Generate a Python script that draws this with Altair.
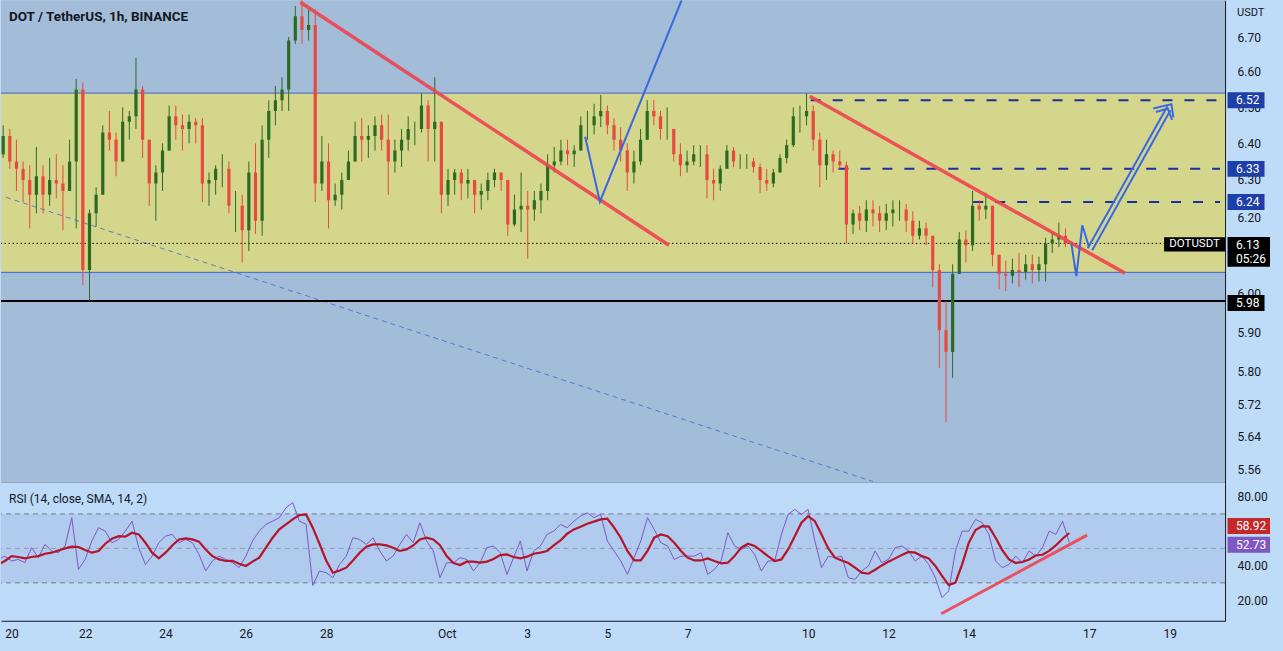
import altair as alt
import pandas as pd

TITLE = "DOT / TetherUS, 1h, BINANCE"
RSI_TITLE = "RSI (14, close, SMA, 14, 2)"
FONT = "Roboto"
INK = "#131722"

# time axis: hours from 2022-10-01 00:00, one candle every 4 hours
T_FIRST = -268
T_STEP = 4
X_DOMAIN = [-266.3, 465.1]
PRICE_DOMAIN = [5.529, 6.807]
RSI_DOMAIN = [8, 88]

OPEN_FIRST = 6.37
HIGH = [6.45, 6.44, 6.41, 6.35, 6.34, 6.39, 6.34, 6.36, 6.37, 6.34,
        6.41, 6.58, 6.57, 6.22, 6.28, 6.45, 6.49, 6.43, 6.50, 6.49,
        6.64, 6.56, 6.41, 6.34, 6.40, 6.505, 6.505, 6.48, 6.48, 6.47,
        6.47, 6.32, 6.34, 6.37, 6.35, 6.27, 6.26, 6.35, 6.40, 6.45,
        6.52, 6.56, 6.585, 6.70, 6.79, 6.81, 6.78, 6.78, 6.42, 6.40,
        6.29, 6.32, 6.38, 6.46, 6.47, 6.45, 6.475, 6.48, 6.48, 6.41,
        6.44, 6.475, 6.46, 6.54, 6.52, 6.585, 6.46, 6.33, 6.33, 6.33,
        6.33, 6.30, 6.29, 6.32, 6.33, 6.32, 6.30, 6.26, 6.32, 6.27,
        6.27, 6.29, 6.37, 6.39, 6.41, 6.41, 6.395, 6.475, 6.49, 6.51,
        6.535, 6.505, 6.47, 6.445, 6.40, 6.38, 6.44, 6.52, 6.52, 6.49,
        6.50, 6.44, 6.40, 6.38, 6.395, 6.395, 6.395, 6.33, 6.34, 6.395,
        6.39, 6.37, 6.37, 6.36, 6.345, 6.33, 6.33, 6.37, 6.41, 6.50,
        6.505, 6.54, 6.505, 6.43, 6.41, 6.38, 6.38, 6.35, 6.22, 6.23,
        6.245, 6.245, 6.23, 6.235, 6.245, 6.245, 6.235, 6.215, 6.19, 6.185,
        6.15, 6.075, 5.98, 6.075, 6.16, 6.165, 6.27, 6.245, 6.265, 6.23,
        6.10, 6.085, 6.09, 6.105, 6.10, 6.10, 6.095, 6.145, 6.16, 6.185,
        6.17]
LOW = [6.36, 6.33, 6.27, 6.24, 6.17, 6.21, 6.21, 6.23, 6.25, 6.165,
       6.27, 6.17, 6.02, 5.98, 6.175, 6.26, 6.38, 6.31, 6.35, 6.41,
       6.44, 6.36, 6.23, 6.19, 6.27, 6.38, 6.41, 6.38, 6.40, 6.40,
       6.24, 6.23, 6.26, 6.28, 6.21, 6.16, 6.08, 6.11, 6.155, 6.15,
       6.36, 6.45, 6.49, 6.49, 6.68, 6.68, 6.69, 6.24, 6.27, 6.17,
       6.23, 6.22, 6.30, 6.35, 6.35, 6.36, 6.38, 6.38, 6.26, 6.32,
       6.335, 6.38, 6.395, 6.43, 6.35, 6.35, 6.21, 6.23, 6.26, 6.245,
       6.25, 6.21, 6.22, 6.245, 6.28, 6.27, 6.15, 6.175, 6.16, 6.09,
       6.19, 6.21, 6.245, 6.32, 6.34, 6.34, 6.335, 6.38, 6.41, 6.425,
       6.445, 6.425, 6.38, 6.35, 6.27, 6.29, 6.34, 6.41, 6.45, 6.41,
       6.41, 6.35, 6.31, 6.32, 6.34, 6.335, 6.25, 6.245, 6.27, 6.33,
       6.335, 6.33, 6.33, 6.32, 6.265, 6.27, 6.28, 6.32, 6.345, 6.39,
       6.43, 6.45, 6.38, 6.28, 6.30, 6.32, 6.33, 6.13, 6.155, 6.165,
       6.16, 6.175, 6.16, 6.165, 6.175, 6.19, 6.16, 6.13, 6.14, 6.125,
       6.015, 5.81, 5.675, 5.785, 6.05, 6.08, 6.11, 6.19, 6.195, 6.07,
       6.01, 6.005, 6.025, 6.015, 6.035, 6.025, 6.03, 6.03, 6.105, 6.12,
       6.12]
CLOSE = [6.42, 6.35, 6.33, 6.30, 6.26, 6.31, 6.26, 6.30, 6.29, 6.27,
         6.35, 6.55, 6.06, 6.21, 6.26, 6.43, 6.41, 6.35, 6.46, 6.475,
         6.55, 6.41, 6.29, 6.32, 6.38, 6.475, 6.45, 6.44, 6.46, 6.45,
         6.29, 6.30, 6.33, 6.33, 6.23, 6.23, 6.165, 6.32, 6.19, 6.41,
         6.49, 6.52, 6.55, 6.69, 6.76, 6.72, 6.735, 6.29, 6.35, 6.245,
         6.26, 6.30, 6.35, 6.42, 6.41, 6.42, 6.45, 6.41, 6.35, 6.38,
         6.41, 6.44, 6.44, 6.505, 6.44, 6.46, 6.26, 6.30, 6.32, 6.29,
         6.30, 6.26, 6.27, 6.30, 6.32, 6.30, 6.18, 6.22, 6.23, 6.22,
         6.245, 6.27, 6.34, 6.35, 6.38, 6.37, 6.38, 6.45, 6.45, 6.475,
         6.49, 6.45, 6.41, 6.38, 6.32, 6.35, 6.41, 6.49, 6.475, 6.44,
         6.44, 6.37, 6.34, 6.35, 6.37, 6.37, 6.30, 6.29, 6.33, 6.38,
         6.35, 6.35, 6.35, 6.335, 6.30, 6.29, 6.32, 6.36, 6.395, 6.475,
         6.475, 6.49, 6.41, 6.34, 6.37, 6.35, 6.34, 6.18, 6.21, 6.19,
         6.22, 6.21, 6.19, 6.21, 6.22, 6.22, 6.19, 6.15, 6.17, 6.15,
         6.06, 5.905, 5.85, 6.05, 6.14, 6.125, 6.23, 6.22, 6.23, 6.10,
         6.05, 6.045, 6.06, 6.055, 6.075, 6.06, 6.075, 6.13, 6.14, 6.15,
         6.13]
RSI = [43.6, 45.5, 42.7, 43.6, 41.7, 50.4, 44.6, 52.3, 48.5, 47.5,
       51.4, 67.8, 37.8, 43.6, 54.3, 62.0, 60.0, 53.3, 55.2, 60.0,
       65.8, 50.4, 40.7, 45.5, 53.3, 57.1, 58.1, 53.3, 55.2, 53.3,
       46.5, 36.9, 42.7, 45.5, 43.6, 41.7, 38.8, 45.5, 54.3, 60.0,
       63.9, 65.8, 67.8, 73.6, 76.5, 65.8, 64.0, 28.5, 36.9, 35.9,
       33.0, 40.7, 45.5, 56.2, 55.2, 52.3, 56.2, 48.5, 42.7, 45.5,
       52.3, 58.1, 53.3, 64.9, 54.3, 48.5, 33.0, 41.7, 41.7, 44.6,
       43.6, 36.9, 41.7, 50.4, 51.4, 47.5, 34.9, 44.6, 54.3, 36.9,
       48.5, 51.4, 58.1, 60.0, 63.9, 62.0, 65.8, 68.7, 70.6, 67.8,
       69.7, 54.3, 48.5, 42.7, 34.9, 44.6, 54.3, 67.8, 61.0, 53.3,
       51.4, 43.6, 45.5, 45.5, 45.5, 47.5, 34.9, 37.8, 42.7, 59.1,
       51.4, 49.4, 51.4, 46.5, 36.9, 42.7, 42.7, 58.1, 69.7, 72.6,
       69.7, 72.6, 54.3, 38.8, 45.5, 44.6, 45.5, 33.0, 32.0, 36.9,
       39.8, 48.5, 41.7, 43.6, 50.4, 51.4, 48.5, 42.7, 45.5, 40.7,
       33.0, 21.4, 25.3, 48.5, 60.0, 60.0, 66.8, 64.9, 58.1, 42.7,
       38.8, 40.7, 45.5, 41.7, 48.5, 45.5, 50.4, 60.0, 58.1, 65.8,
       53.5]
RSI_MA = [40.7, 42.7, 45.5, 45.0, 44.2, 45.0, 45.5, 46.9, 47.5, 48.8,
          50.0, 51.0, 50.8, 49.0, 47.5, 48.5, 52.7, 55.6, 57.1, 56.8,
          59.1, 58.1, 53.3, 47.5, 44.2, 47.5, 51.7, 55.2, 55.8, 55.2,
          53.9, 49.4, 45.5, 43.6, 42.7, 42.7, 41.1, 39.8, 42.3, 44.6,
          50.4, 56.2, 61.0, 63.9, 66.8, 69.3, 69.7, 62.0, 52.7, 43.0,
          35.9, 37.2, 38.8, 43.0, 47.5, 51.0, 52.3, 52.3, 51.7, 50.4,
          48.5, 49.4, 51.7, 55.2, 56.2, 55.2, 51.9, 45.5, 41.5, 40.3,
          42.3, 42.3, 41.7, 42.3, 43.8, 46.1, 46.5, 45.0, 44.2, 45.2,
          46.9, 47.5, 48.5, 51.7, 54.6, 58.5, 61.0, 62.5, 64.3, 65.5,
          66.8, 67.2, 62.2, 56.2, 48.5, 43.0, 43.0, 48.5, 56.2, 58.1,
          57.1, 53.3, 48.5, 44.6, 43.0, 43.0, 44.2, 42.7, 41.3, 41.7,
          45.5, 50.4, 52.7, 51.4, 48.5, 45.5, 42.7, 43.6, 49.4, 57.1,
          64.9, 68.7, 65.8, 58.1, 50.0, 44.6, 43.0, 41.5, 38.8, 35.9,
          35.3, 37.6, 40.1, 42.3, 44.2, 46.1, 47.9, 47.5, 45.5, 44.2,
          39.8, 34.0, 28.7, 30.1, 40.7, 53.3, 60.6, 62.9, 62.6, 56.2,
          49.0, 43.6, 41.5, 42.1, 43.6, 45.9, 46.3, 48.5, 51.7, 55.6,
          58.9]

# labels that stay visible (6.10 and 60.00 lie fully under the value tags)
PRICE_TICKS = [5.56, 5.64, 5.72, 5.80, 5.90, 6.00, 6.20, 6.30, 6.40, 6.50, 6.60, 6.70]
RSI_TICKS = [20, 40, 80]
RSI_LEVELS = [70, 50, 30]
DAY_TICKS = [-264, -216, -168, -120, -72, 0, 48, 96, 144, 216, 264, 312, 384, 432]

ZONE = [6.054, 6.54]
SUPPORT = 5.98
LAST_PRICE = 6.13
LAST_RSI = 52.73
LAST_RSI_MA = 58.92
TARGETS = [6.52, 6.33, 6.24]
TARGET_FROM = [218.5, 235.2, 316.4]

RED_ID = ["a", "a", "b", "b"]
RED_T = [-89.0, 133.1, 217.9, 407.8]
RED_P = [6.801, 6.125, 6.531, 6.052]

BLUE_ID = ["v", "v", "v", "z", "z", "z", "z", "s1", "s1", "s2", "s2", "h", "h", "h", "h2", "h2", "h2"]
BLUE_T = [82.6, 91.5, 140.7, 375.5, 378.5, 382.1, 386.1, 385.4, 433.4, 388.1, 435.2,
          424.8, 435.8, 437.0, 426.5, 433.6, 436.2]
BLUE_P = [6.418, 6.241, 6.807, 6.130, 6.044, 6.178, 6.121, 6.117, 6.503, 6.112, 6.492,
          6.497, 6.509, 6.472, 6.487, 6.497, 6.465]

DIAG_T = [-266.3, 256.1]
DIAG_P = [6.253, 5.532]

RSI_TREND_T = [295.5, 382.7]
RSI_TREND_V = [12.1, 57.7]

# colours
BG = "#bedbf7"
MAIN_BG = "#a3bcd8"
YELLOW = "#d4d68b"
RSI_BG = "#bddaf8"
RSI_BAND = "#b0cbee"
GREEN = "#2c6a22"
RED = "#e8483d"
TREND_RED = "#f0434f"
BLUE = "#3868e4"
NAVY = "#1c2f9e"
TAG_NAVY = "#1e3ea8"

assert len(HIGH) == len(LOW) == len(CLOSE) == len(RSI) == len(RSI_MA)

n = len(CLOSE)
T = [T_FIRST + T_STEP * i for i in range(n)]
OPEN = [OPEN_FIRST] + CLOSE[:-1]
candles = pd.DataFrame({"t": T, "open": OPEN, "high": HIGH, "low": LOW, "close": CLOSE})
candles["dir"] = ["up" if c >= o else "down" for o, c in zip(OPEN, CLOSE)]
rsi_df = pd.DataFrame({"t": T, "rsi": RSI, "ma": RSI_MA})

xs = alt.Scale(domain=X_DOMAIN, nice=False, zero=False)
ps = alt.Scale(type="log", domain=PRICE_DOMAIN, nice=False, zero=False)
rs = alt.Scale(domain=RSI_DOMAIN, nice=False, zero=False)

x_main_axis = alt.Axis(title=None, labels=False, ticks=False, tickSize=0, grid=False,
                       domain=True, domainColor=INK, minExtent=0, maxExtent=0)
y_main_axis = alt.Axis(title=None, orient="right", values=PRICE_TICKS, format=".2f",
                       grid=False, ticks=False, tickSize=0, labelPadding=12,
                       labelOverlap=False, domainColor=INK, minExtent=58, maxExtent=58)
x_rsi_axis = alt.Axis(title=None, values=DAY_TICKS, grid=False, ticks=False, tickSize=0,
                      labelPadding=8, labelFlush=6, labelOverlap=False, domainColor=INK,
                      minExtent=30, maxExtent=30,
                      labelExpr="datum.value == 0 ? 'Oct' : (datum.value < 0 ? toString(31 + datum.value / 24) : toString(1 + datum.value / 24))")
y_rsi_axis = alt.Axis(title=None, orient="right", values=RSI_TICKS, format=".2f",
                      grid=False, ticks=False, tickSize=0, labelPadding=12,
                      labelOverlap=False, domainColor=INK, minExtent=58, maxExtent=58)


def X(f):
    return alt.X(f"{f}:Q", scale=xs, axis=x_main_axis)


def P(f):
    return alt.Y(f"{f}:Q", scale=ps, axis=y_main_axis)


def RX(f):
    return alt.X(f"{f}:Q", scale=xs, axis=x_rsi_axis)


def RY(f):
    return alt.Y(f"{f}:Q", scale=rs, axis=y_rsi_axis)


def path_df(ids, ts, vs):
    return pd.DataFrame({"id": ids, "t": ts, "p": vs, "k": list(range(len(ts)))})


cdir = alt.Color("dir:N", scale=alt.Scale(domain=["up", "down"], range=[GREEN, RED]), legend=None)

zone = alt.Chart(pd.DataFrame({"p": [ZONE[0]], "p2": [ZONE[1]]})).mark_rect(
    color=YELLOW).encode(x=alt.value(0), x2=alt.value("width"), y=P("p"), y2="p2")
zone_edges = alt.Chart(pd.DataFrame({"p": ZONE})).mark_rule(color="#3f63cf", strokeWidth=1).encode(y=P("p"))
diag = alt.Chart(path_df(["d", "d"], DIAG_T, DIAG_P)).mark_line(
    color="#3a62d4", strokeWidth=1, strokeDash=[5, 4], opacity=0.75, clip=True).encode(
    x=X("t"), y=P("p"), order="k:Q")
support = alt.Chart(pd.DataFrame({"p": [SUPPORT]})).mark_rule(color="#000000", strokeWidth=2).encode(y=P("p"))
last_line = alt.Chart(pd.DataFrame({"p": [LAST_PRICE]})).mark_rule(
    color="#000000", strokeWidth=1, strokeDash=[1.5, 2.5]).encode(y=P("p"))
targets = alt.Chart(pd.DataFrame({"t": TARGET_FROM, "t2": [X_DOMAIN[1]] * 3, "p": TARGETS})).mark_rule(
    color=NAVY, strokeWidth=2, strokeDash=[10, 12]).encode(x=X("t"), x2="t2", y=P("p"))
wicks = alt.Chart(candles).mark_rule(strokeWidth=1, clip=True).encode(
    x=X("t"), y=P("low"), y2="high", color=cdir)
bodies = alt.Chart(candles).mark_bar(width=3.2, clip=True).encode(
    x=X("t"), y=P("open"), y2="close", color=cdir)
red_lines = alt.Chart(path_df(RED_ID, RED_T, RED_P)).mark_line(
    color=TREND_RED, strokeWidth=3.5, opacity=0.9, clip=True).encode(
    x=X("t"), y=P("p"), detail="id:N", order="k:Q")
blue_lines = alt.Chart(path_df(BLUE_ID, BLUE_T, BLUE_P)).mark_line(
    color=BLUE, strokeWidth=2, clip=True).encode(
    x=X("t"), y=P("p"), detail="id:N", order="k:Q")

TAG_S = "M-1.85,-0.8L1.85,-0.8L1.85,0.8L-1.85,0.8Z"
TAG_L = "M-1.85,-0.65L2.4,-0.65L2.4,2.35L-1.85,2.35Z"
TAG_R = "M-1.85,-0.8L2.4,-0.8L2.4,0.8L-1.85,0.8Z"
TAG_D = "M-3.05,-0.72L3.05,-0.72L3.05,0.72L-3.05,0.72Z"

tgt_df = pd.DataFrame({"p": TARGETS, "label": [f"{v:.2f}" for v in TARGETS]})
tgt_box = alt.Chart(tgt_df).mark_point(shape=TAG_S, size=400, filled=True, opacity=1,
                                       color=TAG_NAVY, strokeWidth=0).encode(x=alt.value(1246), y=P("p"))
tgt_txt = alt.Chart(tgt_df).mark_text(color="white", fontSize=12, font=FONT, align="left",
                                      baseline="middle").encode(x=alt.value(1236), y=P("p"), text="label:N")
sup_df = pd.DataFrame({"p": [SUPPORT], "label": [f"{SUPPORT:.2f}"]})
sup_box = alt.Chart(sup_df).mark_point(shape=TAG_S, size=400, filled=True, opacity=1,
                                       color="#000000", strokeWidth=0, yOffset=2).encode(x=alt.value(1246), y=P("p"))
sup_txt = alt.Chart(sup_df).mark_text(color="white", fontSize=12, font=FONT, align="left",
                                      baseline="middle", dy=2).encode(x=alt.value(1236), y=P("p"), text="label:N")
last_df = pd.DataFrame({"p": [LAST_PRICE], "label": [f"{LAST_PRICE:.2f}"], "cd": ["05:26"], "sym": ["DOTUSDT"]})
last_box = alt.Chart(last_df).mark_point(shape=TAG_L, size=400, filled=True, opacity=1,
                                         color="#000000", strokeWidth=0).encode(x=alt.value(1246), y=P("p"))
last_txt = alt.Chart(last_df).mark_text(color="white", fontSize=12, font=FONT, align="left",
                                        baseline="middle", dy=2).encode(x=alt.value(1236), y=P("p"), text="label:N")
last_cd = alt.Chart(last_df).mark_text(color="white", fontSize=12, font=FONT, align="left",
                                       baseline="middle", dy=16).encode(x=alt.value(1236), y=P("p"), text="cd:N")
sym_box = alt.Chart(last_df).mark_point(shape=TAG_D, size=400, filled=True, opacity=1,
                                        color="#000000", strokeWidth=0, yOffset=1).encode(x=alt.value(1194.5), y=P("p"))
sym_txt = alt.Chart(last_df).mark_text(color="white", fontSize=11.5, font=FONT, align="center",
                                       baseline="middle", dy=1).encode(x=alt.value(1194.5), y=P("p"), text="sym:N")

title_txt = alt.Chart(pd.DataFrame({"label": [TITLE]})).mark_text(
    align="left", baseline="middle", fontSize=13.5, fontWeight="bold", font=FONT, color=INK).encode(
    x=alt.value(8), y=alt.value(17), text="label:N")
unit_txt = alt.Chart(pd.DataFrame({"label": ["USDT"]})).mark_text(
    align="left", baseline="middle", fontSize=11, font=FONT, color=INK).encode(
    x=alt.value(1237), y=alt.value(13), text="label:N")

main = alt.layer(zone, zone_edges, diag, support, last_line, targets, wicks, bodies,
                 red_lines, blue_lines, tgt_box, tgt_txt, sup_box, sup_txt, last_box,
                 last_txt, last_cd, sym_box, sym_txt, title_txt, unit_txt).properties(
    width=1225, height=483, view=alt.ViewBackground(fill=MAIN_BG, stroke=None))

# RSI pane
band = alt.Chart(pd.DataFrame({"v": [30], "v2": [70]})).mark_rect(
    color=RSI_BAND).encode(x=alt.value(0), x2=alt.value("width"), y=RY("v"), y2="v2")
lv_df = pd.DataFrame({"v": RSI_LEVELS, "o": [1.0, 0.55, 1.0]})
levels = alt.Chart(lv_df).mark_rule(color="#787b86", strokeWidth=1, strokeDash=[5, 4]).encode(
    y=RY("v"), opacity=alt.Opacity("o:Q", scale=None, legend=None))
rsi_line = alt.Chart(rsi_df).mark_line(color="#7e57c2", strokeWidth=1, clip=True).encode(x=RX("t"), y=RY("rsi"))
ma_line = alt.Chart(rsi_df).mark_line(color="#b5152b", strokeWidth=2.2, clip=True).encode(x=RX("t"), y=RY("ma"))
rsi_trend = alt.Chart(pd.DataFrame({"t": RSI_TREND_T, "v": RSI_TREND_V})).mark_line(
    color=TREND_RED, strokeWidth=3, opacity=0.9).encode(x=RX("t"), y=RY("v"))
rsi_title = alt.Chart(pd.DataFrame({"label": [RSI_TITLE]})).mark_text(
    align="left", baseline="middle", fontSize=12, font=FONT, color=INK).encode(
    x=alt.value(8), y=alt.value(16), text="label:N")
ma_df = pd.DataFrame({"v": [LAST_RSI_MA], "label": [f"{LAST_RSI_MA:.2f}"]})
ma_box = alt.Chart(ma_df).mark_point(shape=TAG_R, size=400, filled=True, opacity=1, color="#c62828",
                                     strokeWidth=0, yOffset=-7).encode(x=alt.value(1246), y=RY("v"))
ma_txt = alt.Chart(ma_df).mark_text(color="white", fontSize=12, font=FONT, align="left", baseline="middle",
                                    dy=-7).encode(x=alt.value(1236), y=RY("v"), text="label:N")
rv_df = pd.DataFrame({"v": [LAST_RSI], "label": [f"{LAST_RSI:.2f}"]})
rv_box = alt.Chart(rv_df).mark_point(shape=TAG_R, size=400, filled=True, opacity=1, color="#7e57c2",
                                     strokeWidth=0, yOffset=1).encode(x=alt.value(1246), y=RY("v"))
rv_txt = alt.Chart(rv_df).mark_text(color="white", fontSize=12, font=FONT, align="left",
                                    baseline="middle", dy=1).encode(x=alt.value(1236), y=RY("v"), text="label:N")

rsi_chart = alt.layer(band, levels, rsi_line, ma_line, rsi_trend, rsi_title,
                      ma_box, ma_txt, rv_box, rv_txt).properties(
    width=1225, height=138, view=alt.ViewBackground(fill=RSI_BG, stroke=None))

chart = alt.vconcat(main, rsi_chart, spacing=0).properties(
    padding=0, background=BG).configure_view(stroke=None).configure_axis(
    labelFont=FONT, labelFontSize=12, labelColor=INK).configure_concat(spacing=0)

chart.save("out.html", embed_options={"renderer": "svg", "actions": False})
